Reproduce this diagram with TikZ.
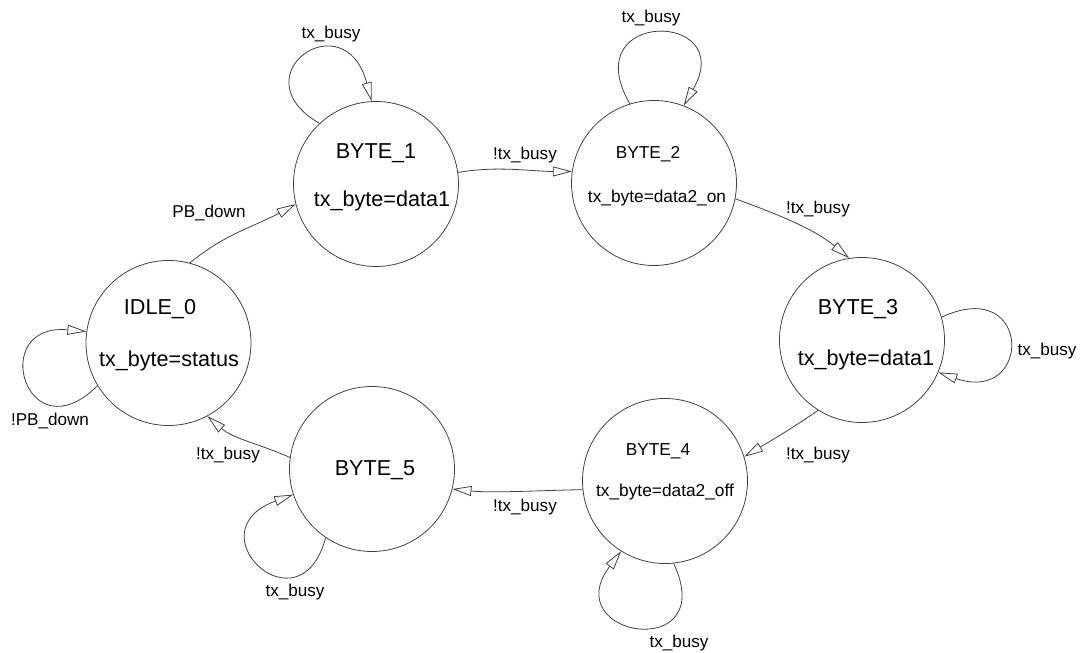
\documentclass[tikz,border=0pt]{standalone}
\usepackage{fontspec}
\setmainfont{Liberation Sans}
\usetikzlibrary{arrows.meta}
\begin{document}
\begin{tikzpicture}[x=1pt,y=1pt,
  state/.style={circle,draw=black!75,line width=0.8pt,minimum size=165pt,inner sep=0pt},
  big/.style={anchor=base,inner sep=0pt,font=\fontsize{21.6}{24}\selectfont},
  small/.style={anchor=base,inner sep=0pt,font=\fontsize{17.3}{20}\selectfont},
  lbl/.style={anchor=base,inner sep=0pt,font=\fontsize{17.1}{20}\selectfont},
  trans/.style={draw=black!75,line width=0.8pt,-{Triangle[open,length=19pt,width=10pt]}}]
\useasboundingbox (0,0) rectangle (1082,653);

% states
\node[state] (idle) at (168.5,310) {};
\node[state] (b1) at (376,469) {};
\node[state] (b2) at (654,470) {};
\node[state] (b3) at (862,313) {};
\node[state] (b4) at (665,172) {};
\node[state] (b5) at (372,184) {};

% state names and outputs
\node[big] (idleN) at (160,338) {IDLE\_0};
\node[big] (idleO) at (169,286) {tx\_byte=status};
\node[big] (b1N) at (376,494) {BYTE\_1};
\node[big] (b1O) at (382,446) {tx\_byte=data1};
\node[small] (b2N) at (648,494) {BYTE\_2};
\node[small] (b2O) at (657,450) {tx\_byte=data2\_on};
\node[big] (b3N) at (858,338) {BYTE\_3};
\node[big] (b3O) at (866,287) {tx\_byte=data1};
\node[small] (b4N) at (658,197) {BYTE\_4};
\node[small] (b4O) at (665,156) {tx\_byte=data2\_off};
\node[big] (b5N) at (375,177) {BYTE\_5};

% transitions between states
\draw[trans] (idle.75) .. controls +(40:45) and +(209:45) .. (b1.194);
\draw[trans] (b1.8) .. controls +(10:40) and +(180:40) .. (b2.172);
\draw[trans] (b2.-11) .. controls +(-20:45) and +(140:45) .. (b3.99);
\draw[trans] (b3.238) .. controls +(215:30) and +(31:30) .. (b4.17);
\draw[trans] (b4.186) .. controls +(181:40) and +(-6:40) .. (b5.-14);
\draw[trans] (b5.172) .. controls +(156:35) and +(-41:35) .. (idle.-62);

% self loops
\draw[trans] (idle.211) .. controls +(225:100) and +(175:100) .. (idle.172);
\draw[trans] (b1.133) .. controls +(150:95) and +(105:105) .. (b1.93);
\draw[trans] (b2.107) .. controls +(120:110) and +(60:110) .. (b2.69);
\draw[trans] (b3.16) .. controls +(25:100) and +(-19:100) .. (b3.-23);
\draw[trans] (b4.276) .. controls +(295:110) and +(233:108) .. (b4.238);
\draw[trans] (b5.236) .. controls +(255:100) and +(200:108) .. (b5.198);

% transition conditions
\node[lbl] (c01) at (209,435) {PB\_down};
\node[lbl] (c00) at (50,227) {!PB\_down};
\node[lbl] (c11) at (331,614) {tx\_busy};
\node[lbl] (c12) at (525,493) {!tx\_busy};
\node[lbl] (c22) at (651,630) {tx\_busy};
\node[lbl] (c23) at (818,439) {!tx\_busy};
\node[lbl] (c33) at (1047,297) {tx\_busy};
\node[lbl] (c34) at (818,193) {!tx\_busy};
\node[lbl] (c44) at (679,5) {tx\_busy};
\node[lbl] (c45) at (525,141) {!tx\_busy};
\node[lbl] (c55) at (295,56) {tx\_busy};
\node[lbl] (c50) at (228,193) {!tx\_busy};
\end{tikzpicture}
\end{document}
